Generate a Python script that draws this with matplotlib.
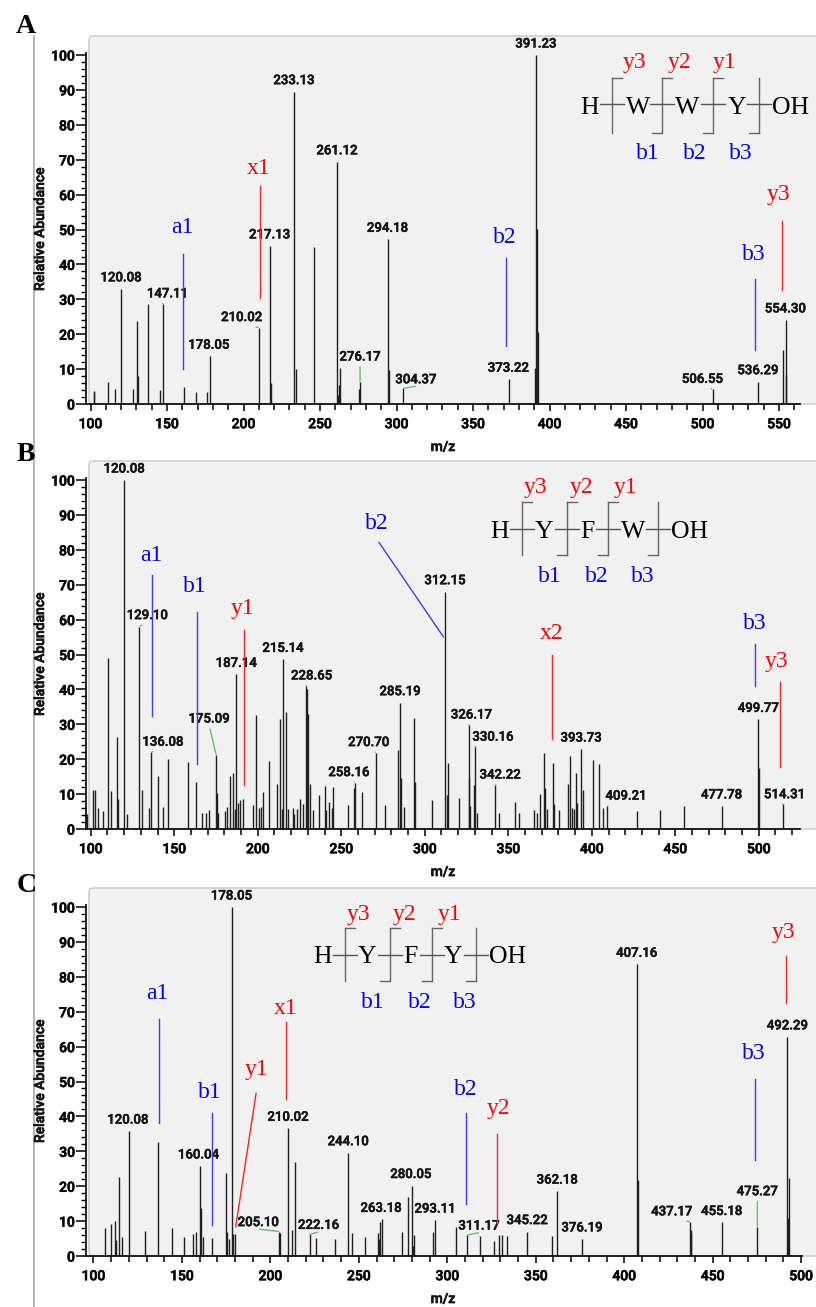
import numpy as np
import matplotlib.pyplot as plt
import matplotlib.patheffects as pe
from matplotlib.patches import FancyBboxPatch
from matplotlib.ticker import FixedLocator

plt.rcParams['font.family'] = ['Roboto', 'DejaVu Sans']
plt.rcParams['font.weight'] = 'medium'
SERIF = 'Liberation Serif'
W, H = 816, 1307
YPX = 3.49          # pixels per 1 % abundance
HEAVY = [pe.withStroke(linewidth=0.5, foreground='#151515')]

# ======================================================
# Spectrum A : H-W-W-Y-OH
# ======================================================
mz_a = [102.0, 102.6, 111.2, 116.0, 120.08, 127.6, 130.2, 130.9, 137.6, 145.4,
        147.11, 160.9, 169.0, 176.1, 178.05, 210.02, 217.13, 218.0, 233.13, 234.6,
        245.9, 261.12, 261.5, 262.4, 263.2, 275.7, 276.17, 294.18, 294.8, 304.37,
        373.22, 390.5, 391.23, 391.9, 392.5, 506.55, 536.29, 552.9, 554.30, 554.9]
ab_a = [3.6, 3.3, 6.4, 4.2, 33.0, 4.2, 23.9, 8.0, 28.7, 4.0,
        28.7, 4.8, 3.3, 3.3, 13.7, 21.9, 45.3, 6.1, 89.5, 10.1,
        44.9, 69.4, 2.6, 5.4, 10.4, 4.2, 6.3, 47.2, 9.7, 4.5,
        7.1, 10.2, 100.0, 50.1, 20.7, 4.2, 6.4, 15.5, 24.1, 8.3]
# labelled peaks: m/z, label dx, dy (pixels), green leader
lab_a = [(120.08, 0, 11, 0), (147.11, 5, 10, 1), (178.05, -1, 11, 0), (210.02, -17, 10, 1),
         (217.13, 0, 11, 0), (233.13, 0, 11, 0), (261.12, 0, 11, 0), (276.17, 0, 25, 1),
         (294.18, 0, 11, 0), (304.37, 13, 8.5, 1), (373.22, 0, 11, 0), (391.23, 0, 11, 0),
         (506.55, -10, 10, 1), (536.29, 0, 11, 0), (554.30, 0, 11, 0)]
ion_a = ['a1', 'x1', 'b2', 'b3', 'y3']
ion_a_line = [(160.5, 9.9, 160.5, 42.9), (211.0, 30.5, 211.0, 62.5), (371.6, 16.6, 371.6, 41.9),
              (534.5, 15.5, 534.5, 35.7), (551.8, 32.7, 551.8, 52.5)]
ion_a_text = [(160.0, 50.6), (209.7, 67.5), (370.5, 47.7), (533.8, 42.7), (549.5, 59.9)]
pep_a = ['H', 'W', 'W', 'Y', 'OH']

# ======================================================
# Spectrum B : H-Y-F-W-OH
# ======================================================
mz_b = [97.8, 101.1, 102.5, 104.3, 107.1, 110.5, 112.1, 115.5, 116.1, 120.08,
        121.4, 129.10, 130.7, 135.0, 136.08, 140.2, 143.4, 146.2, 158.0, 163.2,
        166.6, 169.0, 171.0, 175.09, 175.7, 176.4, 180.1, 181.6, 183.4, 185.3,
        186.2, 187.14, 187.9, 189.1, 191.1, 196.9, 199.1, 200.7, 202.1, 202.9,
        206.9, 211.5, 213.5, 214.4, 215.14, 217.1, 217.8, 221.2, 221.8, 223.5,
        225.3, 226.9, 228.65, 229.3, 230.3, 231.0, 232.8, 236.8, 240.2, 240.8,
        242.8, 244.4, 245.2, 253.8, 257.5, 258.16, 262.4, 270.70, 276.2, 284.0,
        285.19, 285.8, 287.7, 293.7, 294.3, 304.3, 312.15, 313.0, 313.6, 320.2,
        326.17, 326.6, 327.3, 329.6, 330.16, 331.0, 342.22, 344.3, 353.9, 356.5,
        365.1, 366.9, 368.7, 371.5, 372.1, 372.9, 376.7, 377.3, 380.1, 385.8,
        387.2, 388.0, 389.2, 390.4, 391.0, 393.73, 394.5, 401.0, 404.2, 406.8,
        409.21, 427.2, 440.9, 455.3, 477.78, 499.77, 500.1, 514.31]
ab_b = [4.3, 11.2, 11.2, 5.9, 5.2, 48.9, 10.9, 26.5, 8.6, 100.0,
        4.3, 58.0, 11.2, 6.1, 22.0, 15.2, 6.4, 20.0, 19.3, 13.6,
        4.5, 4.5, 5.4, 21.2, 10.4, 4.5, 5.2, 6.4, 15.2, 16.1,
        5.7, 44.3, 7.4, 8.3, 8.6, 6.9, 32.7, 6.1, 6.4, 10.5,
        19.6, 12.8, 31.4, 5.7, 48.6, 33.6, 5.7, 6.1, 4.3, 5.7,
        8.5, 7.1, 41.0, 40.0, 33.0, 12.9, 5.4, 9.6, 12.3, 5.4,
        7.6, 6.1, 12.1, 6.9, 11.8, 13.3, 10.5, 21.9, 6.9, 22.6,
        36.2, 14.5, 6.4, 31.7, 13.4, 8.3, 68.0, 9.6, 18.8, 8.8,
        29.8, 14.5, 6.7, 12.6, 23.6, 4.5, 12.6, 4.5, 7.6, 4.5,
        5.4, 4.5, 9.9, 21.7, 11.7, 5.7, 18.8, 7.1, 5.4, 12.9,
        21.0, 6.1, 5.7, 16.1, 7.4, 22.9, 11.2, 19.8, 18.5, 6.1,
        6.7, 5.2, 5.4, 6.6, 6.6, 31.4, 17.4, 7.1]
lab_b = [(120.08, 0, 11, 0), (129.10, 8, 11, 1), (136.08, 12, 10, 1), (175.09, -7, 36, 1),
         (187.14, 0, 11, 0), (215.14, 0, 11, 0), (228.65, 6, 10, 1), (258.16, -6, 10, 1),
         (270.70, -7, 10, 1), (285.19, 0, 11, 0), (312.15, 0, 11, 0), (326.17, 3, 10, 1),
         (330.16, 18, 9.5, 1), (342.22, 5, 10, 1), (393.73, 0, 11, 0), (409.21, 19, 9.5, 1),
         (477.78, 0, 11, 0), (499.77, 0, 11, 0), (514.31, 2, 9.5, 1)]
ion_b = ['a1', 'b1', 'y1', 'b2', 'x2', 'b3', 'y3']
ion_b_line = [(136.9, 32.3, 136.9, 72.8), (163.8, 18.5, 163.8, 62.3), (191.7, 12.6, 191.7, 57.0),
              (272.6, 82.1, 311.1, 55.1), (376.0, 25.7, 376.0, 49.9), (497.9, 41.1, 497.9, 53.0),
              (512.7, 17.9, 512.7, 42.0)]
ion_b_text = [(136.5, 78.5), (162.4, 69.4), (190.9, 63.2), (271.2, 87.6), (376.0, 56.1),
              (497.3, 58.9), (510.7, 47.9)]
pep_b = ['H', 'Y', 'F', 'W', 'OH']

# ======================================================
# Spectrum C : H-Y-F-Y-OH
# ======================================================
mz_c = [106.7, 109.7, 112.2, 112.7, 114.6, 115.9, 120.08, 128.9, 136.3, 144.2,
        151.0, 156.1, 157.8, 160.04, 160.6, 162.1, 167.0, 174.9, 175.5, 176.8,
        178.05, 178.8, 179.8, 205.10, 205.5, 210.02, 212.0, 213.9, 222.16, 225.6,
        236.5, 244.10, 246.0, 253.5, 260.7, 261.4, 262.0, 263.18, 274.2, 278.0,
        280.05, 280.5, 281.2, 292.1, 293.11, 304.9, 311.17, 318.5, 326.6, 329.2,
        330.8, 333.9, 345.22, 359.2, 362.18, 376.19, 407.16, 407.8, 437.17, 437.5,
        437.9, 455.18, 475.27, 492.29, 492.6, 492.9]
ab_c = [7.9, 9.2, 10.1, 4.6, 22.7, 5.5, 35.8, 7.3, 32.6, 7.9,
        5.5, 6.3, 7.0, 25.8, 13.7, 5.5, 5.1, 23.7, 7.0, 4.9,
        100.0, 6.3, 6.3, 7.0, 6.5, 36.6, 7.4, 26.8, 6.2, 5.3,
        4.9, 29.6, 6.5, 5.5, 6.5, 4.9, 9.6, 10.5, 7.0, 17.0,
        20.2, 2.9, 6.0, 7.0, 10.3, 8.2, 6.0, 5.7, 4.4, 6.0,
        6.0, 5.7, 7.0, 5.7, 18.6, 4.9, 83.6, 21.8, 9.8, 7.4,
        6.5, 9.6, 8.4, 62.8, 11.0, 22.3]
lab_c = [(120.08, -1, 11, 0), (160.04, -1, 11, 0), (178.05, 0, 11, 0), (205.10, -21, 9, 1),
         (210.02, 0, 11, 0), (222.16, 9, 9, 1), (244.10, 0, 11, 0), (263.18, -1, 11, 0),
         (280.05, -1, 11, 0), (293.11, 0, 11, 0), (311.17, 12, 9, 1), (345.22, 0, 11, 0),
         (362.18, 0, 11, 0), (376.19, 0, 11, 0), (407.16, 0, 11, 0), (437.17, -18, 10, 1),
         (455.18, 0, 11, 0), (475.27, 0, 35, 1), (492.29, 0, 11, 0)]
ion_c = ['a1', 'b1', 'y1', 'x1', 'b2', 'y2', 'b3', 'y3']
ion_c_line = [(137.0, 38.0, 137.0, 67.9), (167.2, 8.9, 167.2, 40.9), (191.9, 46.6, 180.4, 8.4),
              (209.0, 44.9, 209.0, 67.0), (310.6, 14.9, 310.6, 40.9), (328.3, 9.4, 328.3, 35.0),
              (474.1, 27.5, 474.1, 50.7), (491.5, 72.6, 491.5, 86.0)]
ion_c_text = [(136.3, 75.1), (165.5, 46.9), (192.3, 53.3), (208.6, 70.8), (310.4, 47.8),
              (328.8, 42.3), (473.5, 58.1), (489.9, 92.6)]
pep_c = ['H', 'Y', 'F', 'Y', 'OH']

# ======================================================
# Layout (pixels)
# ======================================================
# x of m/z 100, px per m/z unit, baseline y, panel top y, axis end x
frame = {'A': (90.5, 1.53, 404, 36, 800),
         'B': (90.8, 1.67, 829, 461, 800),
         'C': (93.5, 1.769, 1256, 888, 802)}
# residue centres, baseline, bond y, cleavage x, marker top/bottom,
# y-ion label x, baseline, b-ion label x, baseline
pep_pos = {'A': ([590, 637.7, 687.3, 736.7, 790.7], 114.3, 104, [611.7, 661.7, 713.3, 759.3],
                 78.3, 132.7, [635, 680, 725], 68.3, [648.3, 695, 740.7], 159.3),
           'B': ([500, 544, 587.7, 633.3, 690], 538.3, 529, [521.7, 566.7, 608.3, 658.3],
                 501.7, 555, [536, 581.7, 626], 493.3, [550, 596.7, 642.3], 581.7),
           'C': ([322.7, 366.7, 410, 452.7, 507.3], 963.3, 955, [345, 390, 431.7, 476],
                 927.7, 980.7, [358.3, 405, 449.3], 920, [373.3, 420, 465], 1007.7)}
letter_pos = {'A': (25.7, 33.3), 'B': (25.7, 460.7), 'C': (26.7, 891.7)}

fig = plt.figure(figsize=(W / 100, H / 100), dpi=100)
bg = fig.add_axes([0, 0, 1, 1], zorder=0)
fg = fig.add_axes([0, 0, 1, 1], zorder=5)
for a in (bg, fg):
    a.set_xlim(0, W)
    a.set_ylim(H, 0)
    a.axis('off')

bg.plot([34, 34], [36, H], color='#a9a9a9', lw=1.2)


def ion_color(name):
    return ('blue', '#3c3cff') if name[0] in 'ab' else ('red', '#ff2020')


def draw_peptide(key, residues):
    cx, base, bond_y, mk, mt, mb, ylx, yb, blx, bb = pep_pos[key]
    for x, r in zip(cx, residues):
        fg.text(x, base, r, family=SERIF, weight='normal', fontsize=18.5,
                ha='center', va='baseline', color='black')
    n = len(mk)
    for i, x in enumerate(mk):
        fg.plot([x, x], [mt, mb], color='#666666', lw=1.0)
        fg.plot([x - 12, x + 12], [bond_y, bond_y], color='#555555', lw=1.0)
        if i < n - 1:
            fg.plot([x, x + 10], [mt, mt], color='#666666', lw=1.0)
        if i > 0:
            fg.plot([x - 10, x], [mb, mb], color='#666666', lw=1.0)
    for k, x in enumerate(ylx):
        fg.text(x, yb, 'y%d' % (n - 1 - k), family=SERIF, weight='normal', fontsize=17,
                ha='center', va='baseline', color='red')
    for k, x in enumerate(blx):
        fg.text(x, bb, 'b%d' % (k + 1), family=SERIF, weight='normal', fontsize=17,
                ha='center', va='baseline', color='blue')


def spectrum(key, mz, ab, labels, ions, ion_line, ion_text, residues):
    p100, ppu, y0, top, xend = frame[key]
    ax = fig.add_axes([86 / W, 1 - y0 / H, (W - 86) / W, (y0 - top) / H], zorder=2)
    ax.patch.set_alpha(0)
    xlo = 100 - (p100 - 86) / ppu
    xhi = 100 + (W - p100) / ppu
    xe = 100 + (xend - p100) / ppu
    ax.set_xlim(xlo, xhi)
    ax.set_ylim(0, (y0 - top) / YPX)

    bg.add_patch(FancyBboxPatch((89, top), W, y0 - top,
                                boxstyle='round,pad=0,rounding_size=4',
                                fc='#f1f1f1', ec='#c8c8c8', lw=1.0))

    for s in ('top', 'right'):
        ax.spines[s].set_visible(False)
    ax.spines['bottom'].set_bounds(xlo, xe)
    ax.spines['left'].set_bounds(0, 100.6)
    for s in ('bottom', 'left'):
        ax.spines[s].set_linewidth(1.3)
        ax.spines[s].set_color('#111111')

    ax.set_xticks(np.arange(100, xe + 1, 50))
    ax.xaxis.set_minor_locator(FixedLocator([v for v in np.arange(100, xe + 1, 10) if v % 50]))
    ax.set_yticks(np.arange(0, 101, 10))
    ax.yaxis.set_minor_locator(FixedLocator([v for v in np.arange(0, 101, 2) if v % 10]))
    ax.tick_params(axis='x', which='major', length=5, width=1.1, pad=4.5, labelsize=10)
    ax.tick_params(axis='x', which='minor', length=4.5, width=1.1)
    ax.tick_params(axis='y', which='major', length=7, width=1.1, pad=1, labelsize=10)
    ax.tick_params(axis='y', which='minor', length=3.5, width=1.0)
    for t in ax.get_xticklabels() + ax.get_yticklabels():
        t.set_path_effects(HEAVY)

    ax.vlines(mz, 0, ab, color='#202020', lw=1.0, zorder=2)

    mz_arr = np.array(mz)
    for m, dx, dy, lead in labels:
        i = int(np.argmin(np.abs(mz_arr - m)))
        arrow = None
        if lead:
            arrow = dict(arrowstyle='-', color='#5cc85c', lw=1.0, shrinkA=0.5, shrinkB=0.5,
                         relpos=(0.5, 0.0))
        ax.annotate('%.2f' % mz[i], xy=(mz[i], ab[i]), xytext=(dx, dy),
                    textcoords='offset pixels', ha='center', va='center',
                    fontsize=9.5, color='#151515', arrowprops=arrow,
                    path_effects=[pe.withStroke(linewidth=0.4, foreground='#151515')])

    for name, (x0, y0_, x1, y1), (tx, ty) in zip(ions, ion_line, ion_text):
        tcol, lcol = ion_color(name)
        ax.plot([x0, x1], [y0_, y1], color=lcol, lw=1.0, zorder=3)
        ax.text(tx, ty, name, family=SERIF, weight='normal', fontsize=17,
                color=tcol, ha='center', va='center', zorder=3)

    # axis titles
    y100 = y0 - 100 * YPX
    fg.text(40, (y0 + y100) / 2, 'Relative Abundance', rotation=90, fontsize=10,
            ha='center', va='center', color='#151515', path_effects=HEAVY)
    fg.text(443, y0 + 43, 'm/z', fontsize=10, ha='center', va='center', color='#151515',
            path_effects=HEAVY)

    lx, ly = letter_pos[key]
    fg.text(lx, ly, key, family=SERIF, weight='bold', fontsize=20,
            ha='center', va='baseline', color='black')
    draw_peptide(key, residues)
    return ax


spectrum('A', mz_a, ab_a, lab_a, ion_a, ion_a_line, ion_a_text, pep_a)
spectrum('B', mz_b, ab_b, lab_b, ion_b, ion_b_line, ion_b_text, pep_b)
spectrum('C', mz_c, ab_c, lab_c, ion_c, ion_c_line, ion_c_text, pep_c)

fig.savefig('out.png', dpi=100)
